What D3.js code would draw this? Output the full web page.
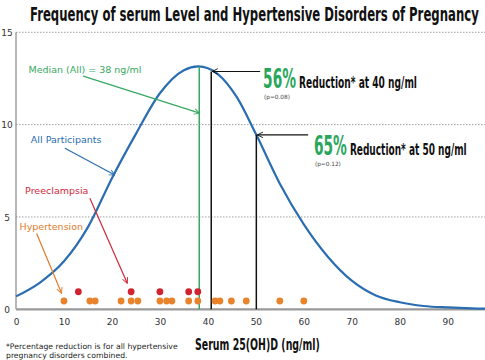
<!DOCTYPE html>
<html><head><meta charset="utf-8">
<script src="https://cdn.jsdelivr.net/npm/d3@7"></script>
<style>
html,body{margin:0;padding:0;background:#fff;}
svg{display:block;}
.cond{font-family:"Liberation Sans Narrow","DejaVu Sans Condensed","Roboto Condensed","Liberation Sans",Arial,sans-serif;font-weight:bold;}
.verd{font-family:"DejaVu Sans",Verdana,sans-serif;}
</style></head>
<body>
<svg id="chart" width="485" height="360"></svg>
<script>
// ---- data ----
const curveX = [0,5,10,15,20,25,30,35,38,42,46,50,55,60,65,70,75,80,85,90,95,100];
const curveY = [0.7,1.45,2.6,4.45,7.1,9.5,11.7,12.95,13.15,12.75,11.5,9.5,6.8,4.6,2.85,1.55,0.75,0.38,0.18,0.1,0.05,0.03];
const hypertensionX = [10,15.4,16.5,21.9,24,25.4,30,31.4,32.5,36,37.9,41.5,42.5,44.9,48,55,60];
const preeclampsiaX = [13,24,30,36,37.9];
const hypertensionLevel = 0.45;
const preeclampsiaLevel = 0.95;
const xTicks = [0,10,20,30,40,50,60,70,80,90];
const yTicks = [0,5,10,15];
const gridTicks = [5,10,15];
const medianLine = 38.2;
const refLabels = ["56%","65%"];
const refTexts = ["Reduction* at 40 ng/ml","Reduction* at 50 ng/ml"];
const refP = ["(p=0.08)","(p=0.12)"];
const refLineX = [40.7,50.1];
const refArrowFromX = [50.9,60.9];
const refLabelPos = [[51.5,11.98],[62.1,8.35]];
const annotTexts = ["Median (All) = 38 ng/ml","All Participants","Preeclampsia","Hypertension"];
const annotColors = ["#37a862","#2a6db0","#d0283a","#e07b2a"];
const annotLabelPos = [[2.6,12.8],[3.1,9.0],[1.9,6.24],[0.73,4.27]];
const annotArrowFrom = [[14.0,12.63],[10.2,8.72],[15.4,6.01],[4.3,4.11]];
const annotArrowTo = [[38.3,10.62],[20.6,7.27],[23.2,1.41],[9.5,0.87]];

const W = 485, H = 360;
const svg = d3.select("#chart");
const x = d3.scaleLinear().domain([0, 97.77]).range([16, 485]);
const y = d3.scaleLinear().domain([0, 15]).range([309.3, 32.3]);

function curveAt(v){
  const i = d3.bisectRight(curveX, v) - 1;
  const t = (v - curveX[i]) / (curveX[i+1] - curveX[i]);
  return curveY[i] + t * (curveY[i+1] - curveY[i]);
}
// condensed text: scale horizontally to fit a target width
function condText(str, px, py, size, fill, width){
  const t = svg.append("text").attr("class","cond").attr("x",0).attr("y",0)
    .attr("font-size",size).attr("fill",fill).text(str);
  const w = t.node().getComputedTextLength();
  t.attr("transform",`translate(${px},${py}) scale(${width/w},1)`);
  return t;
}

// markers
const defs = svg.append("defs");
const markColors = {black:"#111", green:annotColors[0], blue:annotColors[1], red:annotColors[2], orange:annotColors[3]};
Object.entries(markColors).forEach(([k,c])=>{
  defs.append("marker").attr("id","arr-"+k).attr("viewBox","0 0 10 10")
    .attr("refX",9).attr("refY",5).attr("markerWidth",7).attr("markerHeight",7)
    .attr("markerUnits","userSpaceOnUse").attr("orient","auto")
    .append("path").attr("d","M1,1 L9,5 L1,9").attr("fill","none").attr("stroke",c).attr("stroke-width",1.3);
});

// title
condText("Frequency of serum Level and Hypertensive Disorders of Pregnancy", 30, 20.5, 19.5, "#111", 449);

// gridlines
svg.append("g").selectAll("line").data(gridTicks).join("line")
  .attr("x1",x(0)).attr("x2",W).attr("y1",d=>y(d)).attr("y2",d=>y(d))
  .attr("stroke","#888").attr("stroke-width",0.8).attr("stroke-dasharray","1.5,1.5");

// y axis
const yAxis = d3.axisLeft(y).tickValues(yTicks).tickSize(0).tickPadding(0);
const gy = svg.append("g").attr("transform",`translate(${x(0)},0)`).call(yAxis);
gy.select(".domain").attr("stroke","#888").attr("stroke-width",1.2).attr("d",`M0,${y(15)}V${y(0)}`);
gy.selectAll("text").attr("class","verd").attr("font-size",9).attr("fill","#333")
  .attr("text-anchor","middle").attr("x",-9).attr("dy","0.35em");

// x axis
const xAxis = d3.axisBottom(x).tickValues(xTicks).tickSize(0).tickPadding(0);
const gx = svg.append("g").attr("transform",`translate(0,${y(0)})`).call(xAxis);
gx.select(".domain").attr("stroke","#999").attr("stroke-width",2.2).attr("d",`M${x(0)},0H${W}`);
gx.selectAll("text").attr("class","verd").attr("font-size",9).attr("fill","#333").attr("y",13).attr("dy","0.35em");

// x title
condText("Serum 25(OH)D (ng/ml)", 195, 349.5, 16.5, "#111", 125);

// footnote
svg.append("text").attr("class","verd").attr("x",6).attr("y",348.5).attr("font-size",7.7).attr("fill","#222")
  .text("*Percentage reduction is for all hypertensive");
svg.append("text").attr("class","verd").attr("x",6).attr("y",357.5).attr("font-size",7.7).attr("fill","#222")
  .text("pregnancy disorders combined.");

// curve
const pts = curveX.map((v,i)=>[v,curveY[i]]);
svg.append("path").datum(pts)
  .attr("d", d3.line().x(d=>x(d[0])).y(d=>y(d[1])).curve(d3.curveMonotoneX))
  .attr("fill","none").attr("stroke","#2a6db0").attr("stroke-width",2.2);

// median line
svg.append("line").attr("x1",x(medianLine)).attr("x2",x(medianLine))
  .attr("y1",y(curveAt(medianLine))).attr("y2",y(0))
  .attr("stroke","#37a862").attr("stroke-width",1.5);

// reference lines
const pctW = [33,33], txtW = [118,117];
refLineX.forEach((v,i)=>{
  const cy = y(curveAt(v));
  svg.append("line").attr("x1",x(v)).attr("x2",x(v)).attr("y1",cy).attr("y2",y(0))
    .attr("stroke","#111").attr("stroke-width",1.5);
  svg.append("line").attr("x1",x(refArrowFromX[i])).attr("x2",x(v)+1).attr("y1",cy).attr("y2",cy)
    .attr("stroke","#111").attr("stroke-width",1.1).attr("marker-end","url(#arr-black)");
  const [lx,ly] = refLabelPos[i];
  condText(refLabels[i], x(lx), y(ly), 26, "#2aa65c", pctW[i]);
  condText(refTexts[i], x(lx)+pctW[i]+3, y(ly), 16, "#111", txtW[i]);
  svg.append("text").attr("class","verd").attr("x",x(lx)+1).attr("y",y(ly)+11)
    .attr("font-size",5.8).attr("fill","#444").text(refP[i]);
});

// dots
svg.append("g").selectAll("circle").data(hypertensionX).join("circle")
  .attr("cx",d=>x(d)).attr("cy",y(hypertensionLevel)).attr("r",3.4).attr("fill","#e8832c");
svg.append("g").selectAll("circle").data(preeclampsiaX).join("circle")
  .attr("cx",d=>x(d)).attr("cy",y(preeclampsiaLevel)).attr("r",3.4).attr("fill","#d1232f");

// annotations
const mk = ["green","blue","red","orange"];
annotTexts.forEach((s,i)=>{
  svg.append("text").attr("class","verd").attr("x",x(annotLabelPos[i][0])).attr("y",y(annotLabelPos[i][1]))
    .attr("font-size",9.5).attr("fill",annotColors[i]).text(s);
  svg.append("line").attr("x1",x(annotArrowFrom[i][0])).attr("y1",y(annotArrowFrom[i][1]))
    .attr("x2",x(annotArrowTo[i][0])).attr("y2",y(annotArrowTo[i][1]))
    .attr("stroke",annotColors[i]).attr("stroke-width",1.2).attr("marker-end",`url(#arr-${mk[i]})`);
});
</script>
</body></html>
